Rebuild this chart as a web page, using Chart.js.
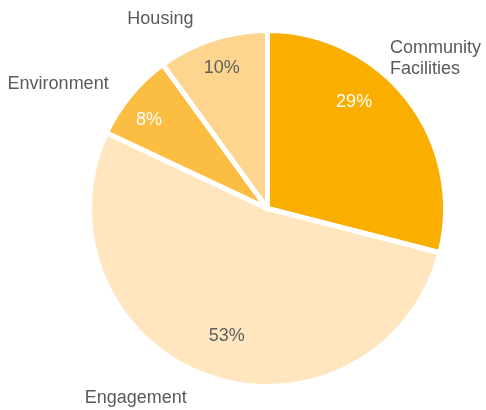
<!DOCTYPE html>
<html>
<head>
<meta charset="utf-8">
<script src="https://cdn.jsdelivr.net/npm/chart.js@4/dist/chart.umd.min.js"></script>
<style>
  html, body { margin: 0; padding: 0; background: #fff; }
  .wrap { width: 486px; height: 410px; }
</style>
</head>
<body>
<div class="wrap"><canvas id="pieChart" width="486" height="410"></canvas></div>
<script>
// --- data ---
const categories = ["Community\nFacilities", "Engagement", "Environment", "Housing"];
const shares = [29, 53, 8, 10];
const sliceColors = ["#F9AE00", "#FFE6BF", "#FBBD42", "#FDD58F"];
const valueColors = ["#ffffff", "#5f5f5f", "#ffffff", "#5f5f5f"];

const FONT = "'Liberation Sans', Arial, Helvetica, sans-serif";
const TEXT = "#5a5a5a";

// draws category names outside the pie and percentages inside
const sliceLabels = {
  id: "sliceLabels",
  afterDatasetsDraw(chart, args, opts) {
    const ctx = chart.ctx;
    const arcs = chart.getDatasetMeta(0).data;
    ctx.save();
    ctx.font = "18px " + FONT;
    arcs.forEach((arc, i) => {
      const { x, y, startAngle, endAngle, outerRadius } = arc.getProps(
        ["x", "y", "startAngle", "endAngle", "outerRadius"], true);
      const mid = (startAngle + endAngle) / 2;
      const dx = Math.cos(mid), dy = Math.sin(mid);

      // percentage inside the slice
      const nudge = opts.valueNudge[i] || [0, 0.8];
      const a = mid + nudge[0] * Math.PI / 180;
      ctx.fillStyle = valueColors[i];
      ctx.textAlign = "center";
      ctx.textBaseline = "middle";
      ctx.fillText(shares[i] + "%", x + Math.cos(a) * outerRadius * nudge[1],
                   y + Math.sin(a) * outerRadius * nudge[1]);

      // category name outside: nearest corner of the text box sits on the ring
      const lines = categories[i].split("\n");
      const lh = 21;
      const w = Math.max(...lines.map(l => ctx.measureText(l).width));
      const h = lines.length * lh;
      const px = x + dx * (outerRadius + opts.gap);
      const py = y + dy * (outerRadius + opts.gap);
      let left = dx >= 0 ? px : px - w;
      let top = dy >= 0 ? py : py - h;
      left = Math.min(Math.max(left, 2), chart.width - w - 2);
      top = Math.min(Math.max(top, 2), chart.height - h - 2);
      const shift = opts.nameShift[i] || [0, 0];
      left += shift[0];
      top += shift[1];
      ctx.fillStyle = TEXT;
      ctx.textAlign = "left";
      ctx.textBaseline = "middle";
      lines.forEach((l, k) => ctx.fillText(l, left, top + lh * k + lh / 2));
    });
    ctx.restore();
  }
};

new Chart(document.getElementById("pieChart"), {
  type: "pie",
  data: {
    labels: categories,
    datasets: [{
      data: shares,
      backgroundColor: sliceColors,
      borderColor: "#ffffff",
      borderWidth: 5
    }]
  },
  options: {
    responsive: false,
    animation: false,
    layout: { padding: { left: 87, right: 38, top: 27, bottom: 20 } },
    plugins: {
      legend: { display: false },
      tooltip: { enabled: false },
      sliceLabels: {
        gap: 10,
        valueNudge: [[-13, 0.77], [-2, 0.75], [-3, 0.83], [0, 0.83]],
        nameShift: [[-3, -14], [-17, 2], [-14, 6], [-16, 0]]
      }
    }
  },
  plugins: [sliceLabels]
});
</script>
</body>
</html>
